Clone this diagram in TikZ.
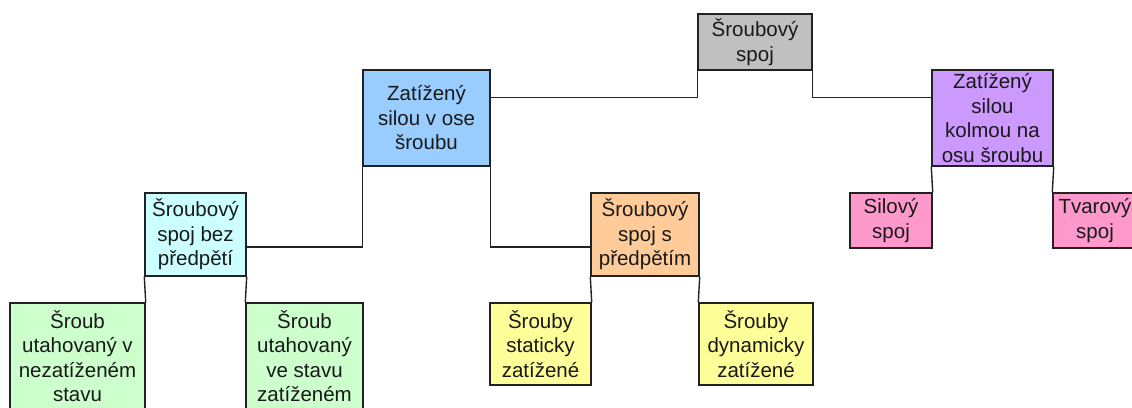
\documentclass[tikz,border=0pt]{standalone}
\usepackage{fontspec}
\setmainfont{Liberation Sans}
\definecolor{cGray}{HTML}{C0C0C0}
\definecolor{cBlue}{HTML}{99CCFF}
\definecolor{cPurple}{HTML}{CC99FF}
\definecolor{cCyan}{HTML}{CCFFFF}
\definecolor{cOrange}{HTML}{FFCC99}
\definecolor{cPink}{HTML}{FF99CC}
\definecolor{cGreen}{HTML}{CCFFCC}
\definecolor{cYellow}{HTML}{FFFF99}
\definecolor{cLine}{HTML}{222222}
\begin{document}
\begin{tikzpicture}[x=1pt,y=-1pt,
  box/.style={draw=cLine, line width=1.4pt, inner sep=0pt, align=center,
    font=\fontsize{20.5}{24.5}\selectfont, text=black!90},
  link/.style={draw=cLine, line width=1.4pt}]
  \useasboundingbox (0,0) rectangle (1132,407);
  \clip (0,0) rectangle (1132,407);
  \fill[white] (0,0) rectangle (1132,407);

  % top level
  \node[box, fill=cGray, minimum width=114pt, minimum height=56pt] (root) at (755,42) {Šroubový\\spoj};
  % second level
  \node[box, fill=cBlue, minimum width=127pt, minimum height=96pt] (axial) at (426.5,118) {Zatížený\\silou v ose\\šroubu};
  \node[box, fill=cPurple, minimum width=121pt, minimum height=96pt] (shear) at (992.5,118) {Zatížený\\silou\\kolmou na\\osu šroubu};
  % third level
  \node[box, fill=cCyan, minimum width=101pt, minimum height=83pt] (nopre) at (195.5,234.5) {Šroubový\\spoj bez\\předpětí};
  \node[box, fill=cOrange, minimum width=108pt, minimum height=83pt] (pre) at (645,234.5) {Šroubový\\spoj s\\předpětím};
  \node[box, fill=cPink, minimum width=82pt, minimum height=55pt] (force) at (891,220.5) {Silový\\spoj};
  \node[box, fill=cPink, minimum width=84pt, minimum height=55pt] (shape) at (1095,220.5) {Tvarový\\spoj};
  % fourth level
  \node[box, fill=cGreen, minimum width=135pt, minimum height=106pt] (unload) at (77.5,356) {Šroub\\utahovaný v\\nezatíženém\\stavu};
  \node[box, fill=cGreen, minimum width=117pt, minimum height=106pt] (load) at (304.5,356) {Šroub\\utahovaný\\ve stavu\\zatíženém};
  \node[box, fill=cYellow, minimum width=101pt, minimum height=82pt] (static) at (540.5,344) {Šrouby\\staticky\\zatížené};
  \node[box, fill=cYellow, minimum width=114pt, minimum height=82pt] (dynamic) at (756,344) {Šrouby\\dynamicky\\zatížené};

  % connectors
  \coordinate (mid) at (0,247);
  \draw[link] (root.south west) -- ++(0,27) coordinate (ta) -- (ta -| axial.east);
  \draw[link] (root.south east) -- ++(0,27) coordinate (tb) -- (tb -| shear.west);
  \draw[link] (axial.south west) |- (mid -| nopre.east);
  \draw[link] (axial.south east) |- (mid -| pre.west);
  \draw[link] (nopre.south west) -- (unload.north east);
  \draw[link] (nopre.south east) -- (load.north west);
  \draw[link] (pre.south west) -- (static.north east);
  \draw[link] (pre.south east) -- (dynamic.north west);
  \draw[link] (shear.south west) -- (force.north east);
  \draw[link] (shear.south east) -- (shape.north west);
\end{tikzpicture}
\end{document}
